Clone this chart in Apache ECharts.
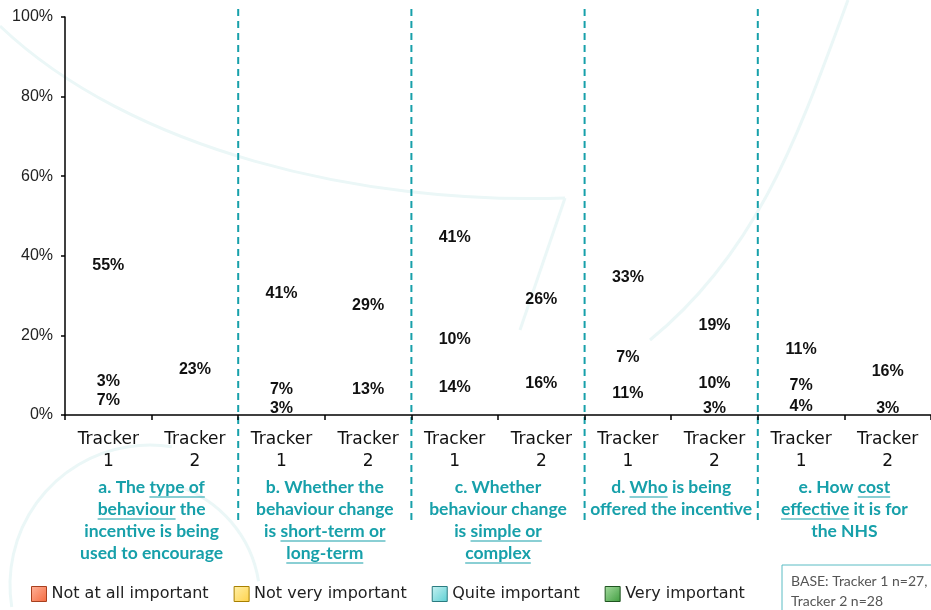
<!DOCTYPE html>
<html>
<head>
<meta charset="utf-8">
<script src="https://cdn.jsdelivr.net/npm/echarts@6/dist/echarts.min.js"></script>
<style>
  html, body { margin: 0; padding: 0; background: #fff; }
  #chart { width: 931px; height: 610px; }
</style>
</head>
<body>
<div id="chart"></div>
<script>
// groups and trackers on the x axis
const groupKeys = ['a', 'b', 'c', 'd', 'e'];
const trackers = ['1', '2'];
const categories = ['a1', 'a2', 'b1', 'b2', 'c1', 'c2', 'd1', 'd2', 'e1', 'e2'];

// stacked shares, %
const notAtAll = [7, 0, 3, 0, 14, 0, 11, 3, 4, 0];
const notVery = [3, 0, 7, 13, 10, 16, 7, 10, 7, 3];
const quite = [55, 23, 41, 29, 41, 26, 33, 19, 11, 16];
const very = [35, 77, 49, 58, 35, 58, 49, 68, 78, 81];

const yTicks = [0, 20, 40, 60, 80, 100];

// group captions, [text, underlined] segments per line
const groupLabels = [
  [[['a. The ', 0], ['type of', 1]], [['behaviour', 1], [' the', 0]], [['incentive is being', 0]], [['used to encourage', 0]]],
  [[['b. Whether the', 0]], [['behaviour change', 0]], [['is ', 0], ['short-term or', 1]], [['long-term', 1]]],
  [[['c. Whether', 0]], [['behaviour change', 0]], [['is ', 0], ['simple or', 1]], [['complex', 1]]],
  [[['d. ', 0], ['Who', 1], [' is being', 0]], [['offered the incentive', 0]]],
  [[['e. How ', 0], ['cost', 1]], [['effective', 1], [' it is for', 0]], [['the NHS', 0]]]
];

const legendItems = [
  { name: 'Not at all important', c0: '#ffb39a', c1: '#f4693e', border: '#a8401f' },
  { name: 'Not very important', c0: '#fff0a8', c1: '#ffd24a', border: '#a88000' },
  { name: 'Quite important', c0: '#c8f2f2', c1: '#5ccfd3', border: '#2a7b80' },
  { name: 'Very important', c0: '#a6dca0', c1: '#3f9c3f', border: '#1f5520' }
];

const teal = '#17a0aa';
const capFont = 'bold 17.5px Lato';
const el = document.getElementById('chart');
const chart = echarts.init(el);

const grad = (it) => new echarts.graphic.LinearGradient(0, 0, 1, 1, [
  { offset: 0, color: it.c0 }, { offset: 1, color: it.c1 }
]);

const mkSeries = (name, data, showLabel) => ({
  name,
  type: 'bar',
  stack: 'all',
  barWidth: '50%',
  data,
  itemStyle: { color: 'rgba(0,0,0,0)' },
  label: {
    show: showLabel,
    position: 'inside',
    color: '#111',
    fontFamily: 'Liberation Sans, Arial',
    fontWeight: 'bold',
    fontSize: 16,
    formatter: (p) => (p.value ? p.value + '%' : '')
  }
});

chart.setOption({
  animation: false,
  backgroundColor: '#fff',
  grid: { left: 65, right: 0, top: 17, bottom: 195 },
  legend: {
    left: 26,
    top: 581,
    itemWidth: 15,
    itemHeight: 15,
    itemGap: 25,
    icon: 'rect',
    textStyle: { fontFamily: 'DejaVu Sans', fontSize: 16, color: '#222' },
    data: legendItems.map((it) => ({
      name: it.name,
      itemStyle: { color: grad(it), borderColor: it.border, borderWidth: 1 }
    }))
  },
  xAxis: {
    type: 'category',
    data: categories,
    axisLine: { lineStyle: { color: '#000', width: 1.5 } },
    axisTick: { show: true, length: 5, lineStyle: { color: '#000', width: 1.5 } },
    axisLabel: {
      margin: 14,
      interval: 0,
      fontFamily: 'DejaVu Sans',
      fontSize: 17,
      lineHeight: 22,
      color: '#111',
      formatter: (v) => 'Tracker\n' + v.slice(1)
    }
  },
  yAxis: {
    type: 'value',
    min: 0,
    max: 100,
    interval: 20,
    axisLine: { show: true, lineStyle: { color: '#000', width: 1.5 } },
    axisTick: { show: true, length: 4, lineStyle: { color: '#000', width: 1.5 } },
    splitLine: { show: false },
    axisLabel: {
      margin: 12,
      fontFamily: 'Liberation Sans, Arial',
      fontSize: 16,
      color: '#222',
      formatter: (v) => (yTicks.includes(v) ? v + '%' : '')
    }
  },
  series: [
    mkSeries(legendItems[0].name, notAtAll, true),
    mkSeries(legendItems[1].name, notVery, true),
    mkSeries(legendItems[2].name, quite, true),
    mkSeries(legendItems[3].name, very, false)
  ]
});

// separators, captions, watermark and base note
const ctx = document.createElement('canvas').getContext('2d');
ctx.font = capFont;
const w = (s) => ctx.measureText(s).width;
const cx = (i) => chart.convertToPixel({ xAxisIndex: 0 }, i);

const graphics = [];
const wm = { stroke: '#ebf7f7', lineWidth: 3, fill: null };
graphics.push(
  { type: 'bezierCurve', silent: true, z: -10, shape: { x1: 0, y1: 26, cpx1: 130, cpy1: 150, cpx2: 360, cpy2: 205, x2: 565, y2: 198 }, style: wm },
  { type: 'line', silent: true, z: -10, shape: { x1: 565, y1: 198, x2: 520, y2: 330 }, style: wm },
  { type: 'bezierCurve', silent: true, z: -10, shape: { x1: 848, y1: 0, cpx1: 800, cpy1: 130, cpx2: 760, cpy2: 250, x2: 650, y2: 340 }, style: wm },
  { type: 'arc', silent: true, z: -10, shape: { cx: 150, cy: 585, r: 140, startAngle: Math.PI * 0.95, endAngle: Math.PI * 1.55 }, style: wm },
  { type: 'arc', silent: true, z: -10, shape: { cx: 140, cy: 600, r: 120, startAngle: Math.PI * 1.6, endAngle: Math.PI * 1.95 }, style: wm }
);

groupKeys.forEach((g, gi) => {
  const c = (cx(gi * 2) + cx(gi * 2 + 1)) / 2;
  if (gi > 0) {
    const sx = (cx(gi * 2 - 1) + cx(gi * 2)) / 2;
    graphics.push({
      type: 'line', silent: true,
      shape: { x1: sx, y1: 9, x2: sx, y2: 522 },
      style: { stroke: teal, lineWidth: 2, lineDash: [7, 5] }
    });
  }
  groupLabels[gi].forEach((line, li) => {
    const y = 487 + li * 22;
    const total = line.reduce((s, seg) => s + w(seg[0]), 0);
    let x = c - total / 2;
    line.forEach(([txt, u]) => {
      graphics.push({
        type: 'text', silent: true,
        style: { text: txt, x, y, font: capFont, fill: teal, align: 'left', verticalAlign: 'middle' }
      });
      if (u) {
        const tw = w(txt.trimEnd());
        graphics.push({
          type: 'line', silent: true,
          shape: { x1: x, y1: y + 10, x2: x + tw, y2: y + 10 },
          style: { stroke: teal, lineWidth: 1.2 }
        });
      }
      x += w(txt);
    });
  });
});

graphics.push(
  { type: 'rect', silent: true, shape: { x: 782, y: 565, width: 160, height: 60 }, style: { fill: '#fff', stroke: '#5bbcc4', lineWidth: 1 } },
  { type: 'text', silent: true, style: { text: 'BASE: Tracker 1 n=27,\nTracker 2 n=28', x: 791, y: 571, font: '14px Lato', lineHeight: 20, fill: '#555' } }
);

chart.setOption({ graphic: graphics });
window.addEventListener('resize', () => chart.resize());
</script>
</body>
</html>
